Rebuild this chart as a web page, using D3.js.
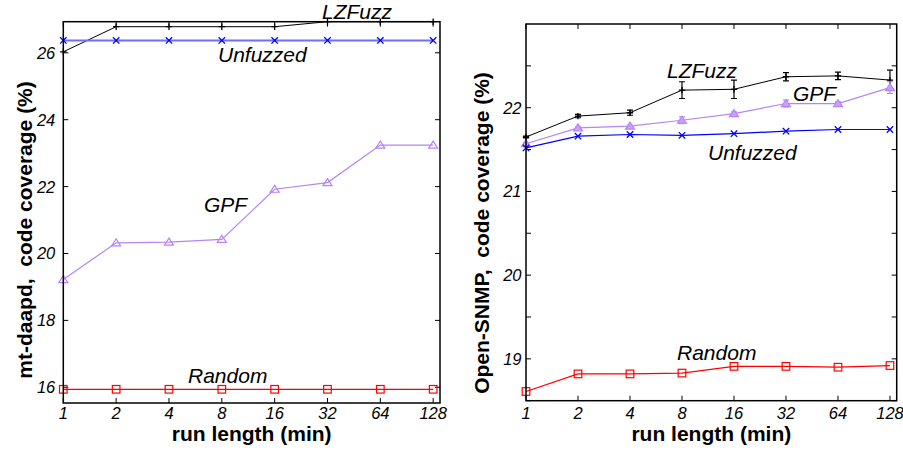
<!DOCTYPE html>
<html>
<head>
<meta charset="utf-8">
<script src="https://cdn.jsdelivr.net/npm/d3@7"></script>
<style>
  body { margin: 0; background: #fff; }
  svg { font-family: "Liberation Sans", Arial, sans-serif; }
</style>
</head>
<body>
<div id="graf"></div>
<script>
// Data
const runLengths = [1, 2, 4, 8, 16, 32, 64, 128]

const daapdLZFuzz = [26.03, 26.78, 26.78, 26.78, 26.78, 26.93, 26.93, 26.93]
const daapdUnfuzzed = [26.37, 26.37, 26.37, 26.37, 26.37, 26.37, 26.37, 26.37]
const daapdGPF = [19.22, 20.32, 20.34, 20.42, 21.92, 22.12, 23.24, 23.24]
const daapdRandom = [15.94, 15.94, 15.94, 15.94, 15.94, 15.94, 15.94, 15.94]
const daapdTicks = [16, 18, 20, 22, 24, 26]

const snmpLZFuzz = [21.65, 21.9, 21.94, 22.21, 22.22, 22.37, 22.38, 22.33]
const snmpLZFuzzErr = [0.01, 0.02, 0.03, 0.1, 0.11, 0.05, 0.045, 0.12]
const snmpGPF = [21.57, 21.76, 21.78, 21.85, 21.93, 22.05, 22.05, 22.24]
const snmpGPFErr = [0.01, 0.01, 0.01, 0.04, 0.02, 0.04, 0.02, 0.07]
const snmpUnfuzzed = [21.52, 21.66, 21.68, 21.67, 21.69, 21.72, 21.74, 21.74]
const snmpRandom = [18.61, 18.82, 18.82, 18.83, 18.91, 18.91, 18.9, 18.92]
const snmpTicks = [19, 20, 21, 22]
const snmpMinorTicks = [18.5, 19.5, 20.5, 21.5, 22.5]

const svg = d3.select("#graf")
  .append("svg")
  .attr("width", 903)
  .attr("height", 450)

const purple = "#b784f5"

const panels = [
  {
    x0: 63.3, x1: 440, y0: 403, y1: 21.7, ydom: [15.53, 26.93],
    ticks: daapdTicks, minor: [], labelGap: 8,
    title: "mt-daapd,  code coverage (%)", titleX: 32, titleY: 230,
    series: [
      { name: "LZFuzz", values: daapdLZFuzz, color: "#000", line: "#000", w: 1, marker: "plus", lx: 322, ly: 19 },
      { name: "Unfuzzed", values: daapdUnfuzzed, color: "#0000ff", line: "#6f6fff", w: 2, marker: "cross", lx: 218, ly: 62 },
      { name: "GPF", values: daapdGPF, color: purple, line: purple, w: 1.2, marker: "tri", fill: "none", lx: 204, ly: 212 },
      { name: "Random", values: daapdRandom, color: "#ff0000", line: "#ff0000", w: 1.2, marker: "square", lx: 188, ly: 383 }
    ]
  },
  {
    x0: 526, x1: 896.7, y0: 400.7, y1: 24, ydom: [18.5, 23],
    ticks: snmpTicks, minor: snmpMinorTicks, labelGap: 4.5,
    title: "Open-SNMP,  code coverage (%)", titleX: 489, titleY: 233,
    series: [
      { name: "LZFuzz", values: snmpLZFuzz, err: snmpLZFuzzErr, color: "#000", line: "#000", w: 1, marker: "plus", lx: 667, ly: 78 },
      { name: "GPF", values: snmpGPF, err: snmpGPFErr, color: purple, line: purple, w: 1.2, marker: "tri", fill: "#c9a2f7", lx: 793, ly: 101 },
      { name: "Unfuzzed", values: snmpUnfuzzed, color: "#0000ff", line: "#0000ff", w: 1.2, marker: "cross", lx: 708, ly: 160 },
      { name: "Random", values: snmpRandom, color: "#ff0000", line: "#ff0000", w: 1.2, marker: "square", lx: 677, ly: 360 }
    ]
  }
]

const drawMarker = (g, type, cx, cy, color, fill) => {
  const s = 3.2
  if (type === "plus") {
    g.append("path").attr("d", `M${cx - s},${cy}H${cx + s}M${cx},${cy - s}V${cy + s}`)
      .attr("stroke", color).attr("stroke-width", 1.3)
  } else if (type === "cross") {
    g.append("path").attr("d", `M${cx - s},${cy - s}L${cx + s},${cy + s}M${cx - s},${cy + s}L${cx + s},${cy - s}`)
      .attr("stroke", color).attr("stroke-width", 1.3)
  } else if (type === "tri") {
    g.append("path").attr("d", `M${cx},${cy - 4}L${cx + 4.5},${cy + 3}L${cx - 4.5},${cy + 3}Z`)
      .attr("stroke", color).attr("stroke-width", 1.2).attr("fill", fill)
  } else {
    g.append("rect").attr("x", cx - 3.8).attr("y", cy - 3.8).attr("width", 7.6).attr("height", 7.6)
      .attr("stroke", color).attr("stroke-width", 1.2).attr("fill", "none")
  }
}

panels.forEach(p => {
  const x = d3.scaleLog().base(2).domain([1, 140]).range([p.x0, p.x1])
  const y = d3.scaleLinear().domain(p.ydom).range([p.y0, p.y1])
  const g = svg.append("g")

  // ticks on all four sides
  const tl = 5
  const axes = g.append("g").attr("stroke", "#000").attr("stroke-width", 1)
  runLengths.forEach(r => {
    axes.append("line").attr("x1", x(r)).attr("x2", x(r)).attr("y1", p.y0).attr("y2", p.y0 - tl)
    axes.append("line").attr("x1", x(r)).attr("x2", x(r)).attr("y1", p.y1).attr("y2", p.y1 + tl)
  })
  p.ticks.concat(p.minor).forEach(t => {
    axes.append("line").attr("x1", p.x0).attr("x2", p.x0 + tl).attr("y1", y(t)).attr("y2", y(t))
    axes.append("line").attr("x1", p.x1).attr("x2", p.x1 - tl).attr("y1", y(t)).attr("y2", y(t))
  })

  // tick labels
  g.append("g").selectAll("text").data(runLengths).join("text")
    .attr("x", d => x(d)).attr("y", 419)
    .attr("text-anchor", "middle").attr("font-style", "italic").attr("font-size", 16.5)
    .text(d => d)
  g.append("g").selectAll("text").data(p.ticks).join("text")
    .attr("x", p.x0 - p.labelGap).attr("y", d => y(d)).attr("dy", "0.36em")
    .attr("text-anchor", "end").attr("font-style", "italic").attr("font-size", 16.5)
    .text(d => d)

  // series
  const clip = "clip" + p.x0
  svg.append("clipPath").attr("id", clip).append("rect")
    .attr("x", p.x0 - 6).attr("y", p.y1 - 6).attr("width", p.x1 - p.x0 + 12).attr("height", p.y0 - p.y1 + 12)
  p.series.forEach(s => {
    const sg = g.append("g").attr("clip-path", `url(#${clip})`)
    const pts = runLengths.map((r, i) => [x(r), y(s.values[i])])
    sg.append("path").attr("d", d3.line()(pts))
      .attr("fill", "none").attr("stroke", s.line).attr("stroke-width", s.w)
    if (s.err) {
      runLengths.forEach((r, i) => {
        const cx = x(r), a = y(s.values[i] - s.err[i]), b = y(s.values[i] + s.err[i])
        sg.append("path").attr("d", `M${cx},${a}V${b}M${cx - 3},${a}H${cx + 3}M${cx - 3},${b}H${cx + 3}`)
          .attr("stroke", s.color).attr("stroke-width", 1.2).attr("fill", "none")
      })
    }
    pts.forEach(([cx, cy]) => drawMarker(sg, s.marker, cx, cy, s.color, s.fill))
    g.append("text").attr("x", s.lx).attr("y", s.ly)
      .attr("font-style", "italic").attr("font-size", 21).text(s.name)
  })

  // frame
  g.append("rect").attr("x", p.x0).attr("y", p.y1)
    .attr("width", p.x1 - p.x0).attr("height", p.y0 - p.y1)
    .attr("fill", "none").attr("stroke", "#000").attr("stroke-width", 1.5)

  // titles
  g.append("text").attr("x", (p.x0 + p.x1) / 2).attr("y", 441)
    .attr("text-anchor", "middle").attr("font-weight", "bold").attr("font-size", 21)
    .text("run length (min)")
  g.append("text").attr("transform", `translate(${p.titleX},${p.titleY}) rotate(-90)`)
    .attr("text-anchor", "middle").attr("font-weight", "bold").attr("font-size", 21)
    .attr("xml:space", "preserve").style("white-space", "pre")
    .text(p.title)
})
</script>
</body>
</html>
